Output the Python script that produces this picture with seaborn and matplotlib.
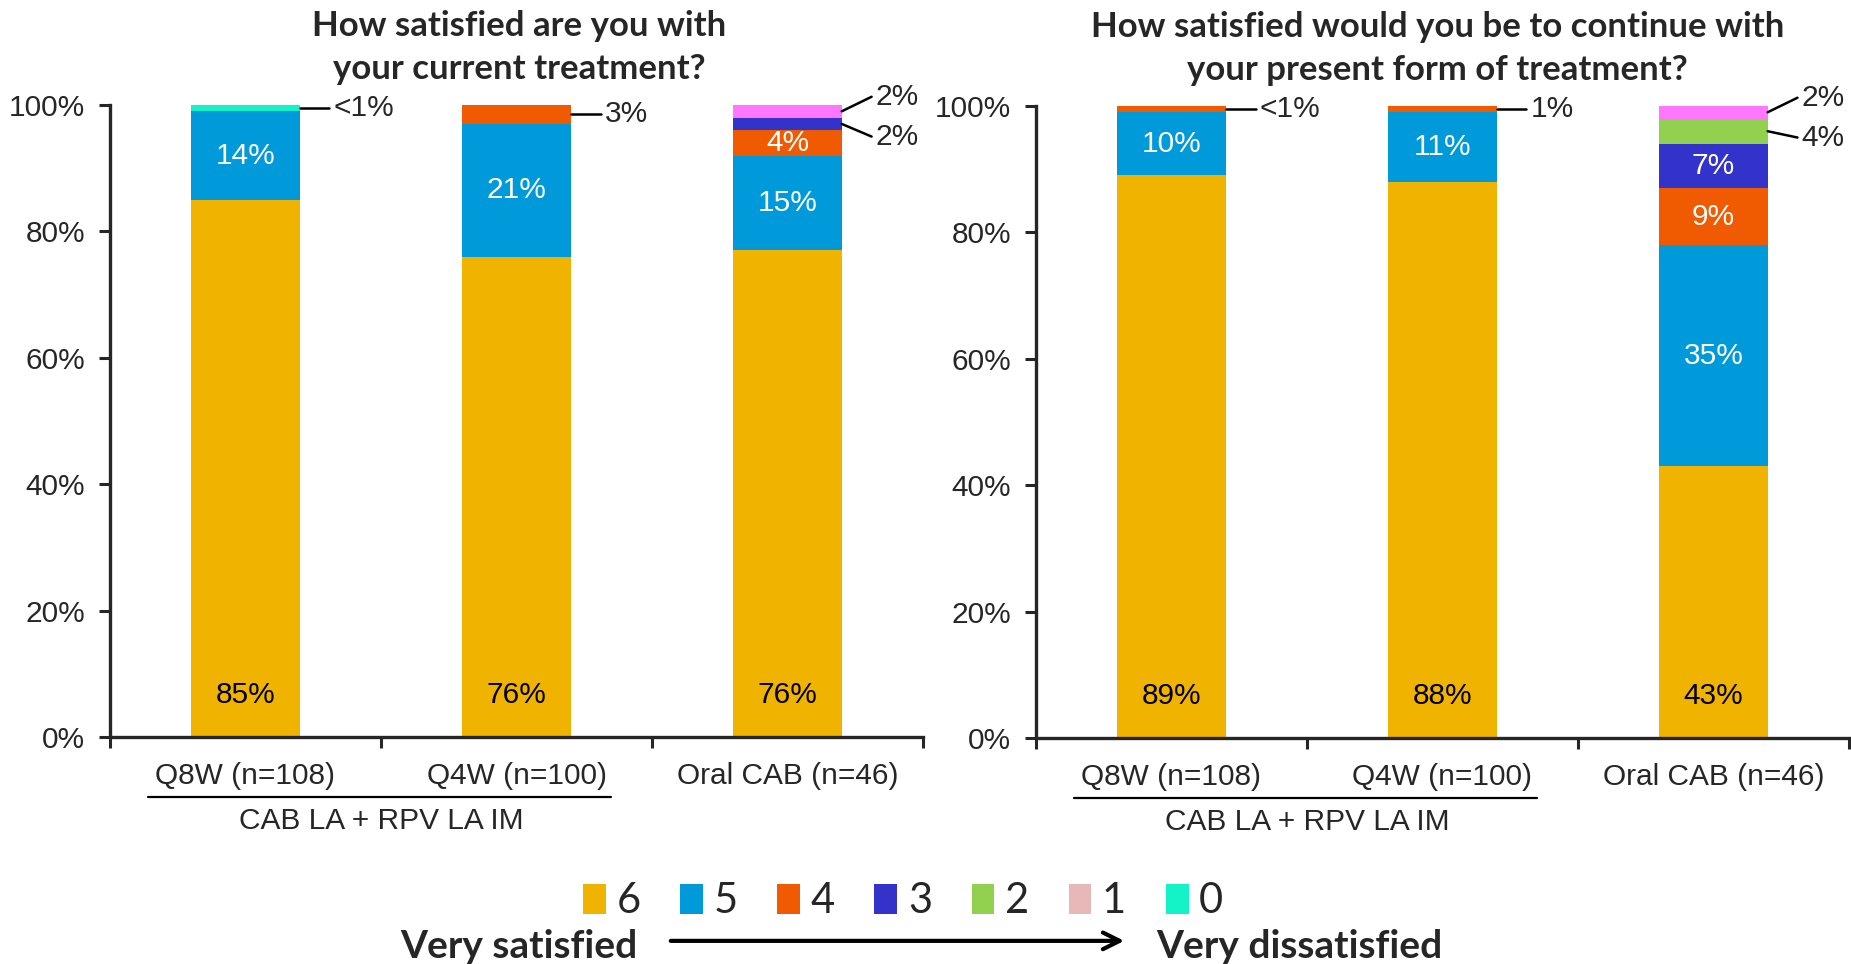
import numpy as np
import matplotlib
matplotlib.use("Agg")
import matplotlib.pyplot as plt
import matplotlib.transforms as mtransforms
from matplotlib.patches import Patch
import seaborn as sns

# data
groups = ["Q8W (n=108)", "Q4W (n=100)", "Oral CAB (n=46)"]
scores = ["6", "5", "4", "3", "2", "1", "0"]
bar_colors = ["#F0B400", "#0099DA", "#F05A00", "#3333CC", "#92D050", "#FF77FF", "#14F2C8"]
legend_colors = ["#F0B400", "#0099DA", "#F05A00", "#3333CC", "#92D050", "#E6B9B8", "#14F2C8"]

current_6 = [85, 76, 77]
current_5 = [14, 21, 15]
current_4 = [0, 3, 4]
current_3 = [0, 0, 2]
current_2 = [0, 0, 0]
current_1 = [0, 0, 2]
current_0 = [1, 0, 0]
current_base_labels = ["85%", "76%", "76%"]
# (bar index, score, text)
current_callouts = [(0, "0", "<1%"), (1, "4", "3%"), (2, "1", "2%"), (2, "3", "2%")]

continue_6 = [89, 88, 43]
continue_5 = [10, 11, 35]
continue_4 = [1, 1, 9]
continue_3 = [0, 0, 7]
continue_2 = [0, 0, 4]
continue_1 = [0, 0, 2]
continue_0 = [0, 0, 0]
continue_base_labels = ["89%", "88%", "43%"]
continue_callouts = [(0, "4", "<1%"), (1, "4", "1%"), (2, "1", "2%"), (2, "2", "4%")]

title_left = "How satisfied are you with\nyour current treatment?"
title_right = "How satisfied would you be to continue with\nyour present form of treatment?"
group_label = "CAB LA + RPV LA IM"

sns.set_style("ticks")
plt.rcParams["font.family"] = ["Liberation Sans", "DejaVu Sans"]
bold_font = ["Lato", "DejaVu Sans"]
FS = 21.5

fig = plt.figure(figsize=(18.51, 9.64), dpi=100)
ax1 = fig.add_axes([0.0594, 0.2355, 0.4393, 0.6556])
ax2 = fig.add_axes([0.5597, 0.2345, 0.4392, 0.6556])


def draw_panel(ax, series, base_labels, callouts, title, title_x):
    vals = np.array(series, dtype=float)  # rows = scores
    cum = np.cumsum(vals, axis=0)
    # draw from tallest cumulative down so each shorter one sits on top
    for k in range(len(scores) - 1, -1, -1):
        sns.barplot(x=groups, y=cum[k], color=bar_colors[k], width=0.4,
                    saturation=1, linewidth=0, ax=ax, zorder=2)

    # labels inside bars
    callout_keys = [(b, s) for b, s, _ in callouts]
    for b in range(len(groups)):
        ax.text(b, 6.6, base_labels[b], ha="center", va="center", fontsize=FS, color="black", zorder=5)
        for k in range(1, len(scores)):
            v = vals[k, b]
            if v <= 0 or (b, scores[k]) in callout_keys:
                continue
            mid = cum[k, b] - v / 2
            ax.text(b, mid, f"{int(v)}%", ha="center", va="center", fontsize=FS, color="white", zorder=5)

    # callouts to the right of the bars
    per_bar = {}
    for b, s, txt in callouts:
        per_bar.setdefault(b, []).append((s, txt))
    for b, items in per_bar.items():
        for j, (s, txt) in enumerate(items):
            k = scores.index(s)
            mid = cum[k, b] - vals[k, b] / 2
            x0 = b + 0.2
            if len(items) == 1:
                ty = mid
            else:
                ty = 101.3 if j == 0 else 95.0
            ax.plot([x0, x0 + 0.11], [mid, ty], color="black", lw=1.8, clip_on=False, zorder=5)
            ax.text(x0 + 0.125, ty, txt, ha="left", va="center", fontsize=FS, zorder=5)

    ax.set_ylim(0, 100)
    ax.set_xlim(-0.5, 2.5)
    ax.set_yticks(range(0, 101, 20))
    ax.set_yticklabels([f"{t}%" for t in range(0, 101, 20)], fontsize=FS)
    ax.set_xticks([-0.5, 0.5, 1.5, 2.5])
    ax.set_xticklabels([])
    ax.set_xticks([0, 1, 2], minor=True)
    ax.set_xticklabels(groups, minor=True, fontsize=FS)
    ax.tick_params(axis="x", which="minor", length=0, pad=18)
    ax.tick_params(axis="both", which="major", length=8, width=2.2, direction="out")
    ax.tick_params(axis="y", which="major", pad=10)
    ax.set_xlabel("")
    ax.set_ylabel("")
    sns.despine(ax=ax)
    for sp in ["left", "bottom"]:
        ax.spines[sp].set_linewidth(2.4)

    trans = mtransforms.blended_transform_factory(ax.transData, ax.transAxes)
    ax.plot([-0.36, 1.35], [-0.095, -0.095], transform=trans, color="black", lw=1.6, clip_on=False)
    ax.text(0.5, -0.133, group_label, transform=trans, ha="center", va="center", fontsize=FS)

    ax.text(title_x, 1.032, title, transform=ax.transAxes, ha="center", va="bottom",
            fontsize=25, fontweight="bold", family=bold_font, linespacing=1.4)


draw_panel(ax1, [current_6, current_5, current_4, current_3, current_2, current_1, current_0],
           current_base_labels, current_callouts, title_left, 0.503)
draw_panel(ax2, [continue_6, continue_5, continue_4, continue_3, continue_2, continue_1, continue_0],
           continue_base_labels, continue_callouts, title_right, 0.494)

# legend
handles = [Patch(facecolor=c, edgecolor="none") for c in legend_colors]
fig.legend(handles, scores, loc="center", bbox_to_anchor=(0.488, 0.065), ncol=7, frameon=False,
           handlelength=0.55, handleheight=0.75, handletextpad=0.25, columnspacing=0.95,
           prop={"family": bold_font, "size": 30})

fig.text(637 / 1851, 0.018, "Very satisfied", ha="right", va="center", fontsize=28,
         fontweight="bold", family=bold_font)
fig.text(1156 / 1851, 0.018, "Very dissatisfied", ha="left", va="center", fontsize=28,
         fontweight="bold", family=bold_font)
ax1.annotate("", xy=(1127 / 1851, 0.024), xytext=(668 / 1851, 0.024),
             xycoords="figure fraction", textcoords="figure fraction",
             arrowprops=dict(arrowstyle="->", lw=3, color="black", mutation_scale=30))

fig.savefig("out.png", dpi=100)
